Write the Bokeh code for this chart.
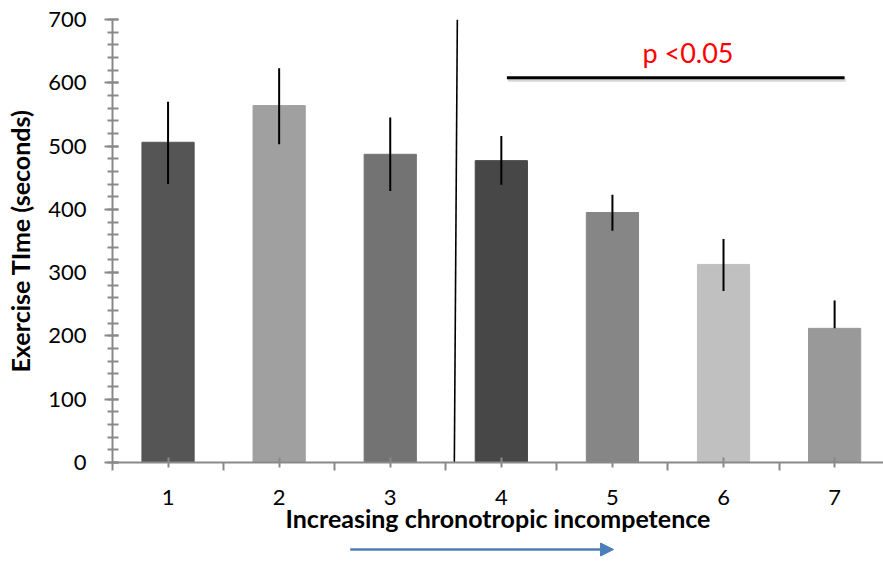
from bokeh.plotting import figure
from bokeh.layouts import column
from bokeh.models import ColumnDataSource, FixedTicker, Range1d, Arrow, NormalHead, Label
from bokeh.embed import file_html
from bokeh.resources import INLINE

# ---- data ----
groups = [1, 2, 3, 4, 5, 6, 7]
group_labels = ["1", "2", "3", "4", "5", "6", "7"]
exercise_time = [506, 564, 487, 477, 395, 313, 212]
err_upper = [64, 59, 58, 39, 28, 40, 44]
err_lower = [66, 61, 58, 38, 29, 42, 0]
bar_colors = ["#555555", "#a0a0a0", "#737373", "#474747", "#868686", "#c0c0c0", "#999999"]
y_ticks = [0, 100, 200, 300, 400, 500, 600, 700]
y_minor = list(range(0, 701, 20))
p_text = "p <0.05"
x_title = "Increasing chronotropic incompetence"
y_title = "Exercise TIme (seconds)"

FONT = "Lato"
AX_GREY = "#898989"

src = ColumnDataSource(dict(
    x=groups,
    top=exercise_time,
    color=bar_colors,
    hi=[m + u for m, u in zip(exercise_time, err_upper)],
    lo=[m - l for m, l in zip(exercise_time, err_lower)],
))

p = figure(width=883, height=541, output_backend="svg", toolbar_location=None,
           x_range=Range1d(0.5, 7.44), y_range=Range1d(0, 700),
           min_border_left=112, min_border_right=0, min_border_top=19, min_border_bottom=79)
p.outline_line_color = None
p.xgrid.grid_line_color = None
p.ygrid.grid_line_color = None
p.background_fill_color = "white"
p.border_fill_color = "white"

p.vbar(x="x", top="top", bottom=0, width=0.47, color="color", source=src)
p.segment(x0="x", x1="x", y0="lo", y1="hi", line_color="black", line_width=2, source=src)

# divider line and significance bar
p.line(x=[3.604, 3.577], y=[700, 0], line_color="black", line_width=1.6)
p.line(x=[4.06, 7.1], y=[604, 604], line_color="#bbbbbb", line_width=3, line_alpha=0.6)
p.line(x=[4.05, 7.09], y=[608, 608], line_color="black", line_width=3)
p.add_layout(Label(x=5.68, y=648, text=p_text, text_color="#ff0000", text_font=FONT,
                   text_font_size="27px", text_align="center", text_baseline="middle"))

# x axis
xa = p.xaxis[0]
xa.ticker = FixedTicker(ticks=groups, minor_ticks=[0.5, 1.5, 2.5, 3.5, 4.5, 5.5, 6.5, 7.5])
xa.major_label_overrides = {g: s for g, s in zip(groups, group_labels)}
xa.axis_line_color = AX_GREY
xa.axis_line_width = 2
xa.major_tick_line_color = AX_GREY
xa.major_tick_line_width = 2
xa.major_tick_in = 5
xa.major_tick_out = 5
xa.minor_tick_line_color = AX_GREY
xa.minor_tick_line_width = 2
xa.minor_tick_in = 0
xa.minor_tick_out = 8
xa.major_label_standoff = 19
xa.major_label_text_font = FONT
xa.major_label_text_font_size = "22px"
xa.major_label_text_color = "black"
xa.axis_label = x_title
xa.axis_label_text_font = FONT
xa.axis_label_text_font_style = "bold"
xa.axis_label_text_font_size = "25px"
xa.axis_label_text_color = "black"
xa.axis_label_standoff = -5

# y axis
ya = p.yaxis[0]
ya.ticker = FixedTicker(ticks=y_ticks, minor_ticks=y_minor)
ya.axis_line_color = AX_GREY
ya.axis_line_width = 2
ya.major_tick_line_color = AX_GREY
ya.major_tick_line_width = 2
ya.major_tick_in = 6
ya.major_tick_out = 8
ya.minor_tick_line_color = AX_GREY
ya.minor_tick_line_width = 2
ya.minor_tick_in = 6
ya.minor_tick_out = 5
ya.major_label_standoff = 18
ya.major_label_text_font = FONT
ya.major_label_text_font_size = "22px"
ya.major_label_text_color = "black"
ya.axis_label = y_title
ya.axis_label_text_font = FONT
ya.axis_label_text_font_style = "bold"
ya.axis_label_text_font_size = "25px"
ya.axis_label_text_color = "black"
ya.axis_label_standoff = 10

# strip under the chart holding the direction arrow
p2 = figure(width=883, height=22, output_backend="svg", toolbar_location=None,
            x_range=p.x_range, y_range=Range1d(0, 22), x_axis_type=None, y_axis_type=None,
            min_border_left=112, min_border_right=0, min_border_top=0, min_border_bottom=0)
p2.outline_line_color = None
p2.xgrid.grid_line_color = None
p2.ygrid.grid_line_color = None
p2.add_layout(Arrow(x_start=2.64, y_start=14, x_end=5.01, y_end=14,
                    line_color="#4a7ebb", line_width=2.5,
                    end=NormalHead(size=13, fill_color="#4a7ebb", line_color="#4a7ebb")))

layout = column(p, p2, spacing=0)
open("out.html", "w").write(file_html(layout, INLINE))
